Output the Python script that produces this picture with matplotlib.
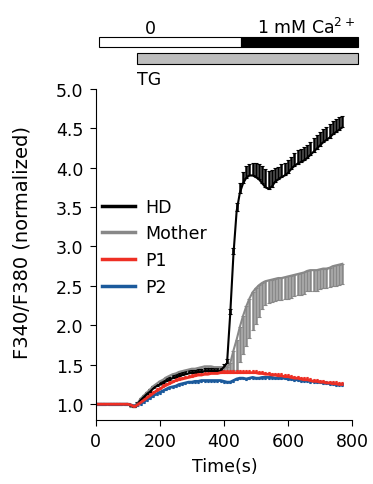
import numpy as np
import matplotlib.pyplot as plt
from matplotlib.patches import Rectangle
from matplotlib.lines import Line2D

plt.rcParams['font.family'] = ['DejaVu Sans']
plt.rcParams['mathtext.default'] = 'regular'

# time axis (s)
time = np.arange(0, 780, 10)

hd = [1.00, 1.00, 1.00, 1.00, 1.00, 1.00, 1.00, 1.00, 1.00, 1.00,
      1.00, 0.98, 0.97, 1.00, 1.05, 1.09, 1.13, 1.16, 1.20, 1.23,
      1.25, 1.27, 1.29, 1.31, 1.33, 1.34, 1.36, 1.37, 1.38, 1.39,
      1.40, 1.40, 1.41, 1.41, 1.42, 1.42, 1.42, 1.42, 1.42, 1.43,
      1.47, 1.52, 2.15, 2.90, 3.45, 3.68, 3.80, 3.87, 3.90, 3.90,
      3.88, 3.85, 3.80, 3.75, 3.73, 3.76, 3.82, 3.85, 3.88, 3.90,
      3.93, 3.98, 4.02, 4.05, 4.07, 4.09, 4.12, 4.16, 4.20, 4.24,
      4.28, 4.32, 4.35, 4.38, 4.42, 4.45, 4.48, 4.51]
hd_err = [0.01] * 13 + [0.03] * 7 + [0.04] * 20 + \
         [0.04, 0.05, 0.06, 0.08, 0.10, 0.12, 0.14, 0.15, 0.15, 0.16,
          0.18, 0.20, 0.22, 0.23, 0.23, 0.21, 0.18, 0.16, 0.16, 0.16,
          0.16, 0.16, 0.16, 0.17, 0.17, 0.17, 0.17, 0.17, 0.17, 0.17,
          0.17, 0.17, 0.17, 0.17, 0.17, 0.16, 0.16, 0.15]

mother = [1.00, 1.00, 1.00, 1.00, 1.00, 1.00, 1.00, 1.00, 1.00, 1.00,
          1.00, 0.98, 0.97, 1.01, 1.07, 1.11, 1.15, 1.19, 1.23, 1.26,
          1.29, 1.31, 1.34, 1.36, 1.38, 1.39, 1.41, 1.42, 1.43, 1.44,
          1.45, 1.45, 1.46, 1.47, 1.48, 1.48, 1.48, 1.47, 1.47, 1.47,
          1.47, 1.47, 1.52, 1.68, 1.82, 1.98, 2.12, 2.24, 2.34, 2.42,
          2.47, 2.51, 2.54, 2.56, 2.57, 2.58, 2.59, 2.60, 2.60, 2.61,
          2.62, 2.63, 2.64, 2.65, 2.66, 2.67, 2.69, 2.70, 2.70, 2.70,
          2.71, 2.72, 2.72, 2.73, 2.75, 2.76, 2.77, 2.78]
mother_err = [0.01] * 13 + [0.03] * 7 + [0.05] * 22 + \
             [0.10, 0.25, 0.38, 0.45, 0.48, 0.50, 0.50, 0.48,
              0.45, 0.40, 0.33, 0.30, 0.29, 0.28, 0.28, 0.28, 0.28, 0.28,
              0.28, 0.28, 0.27, 0.27, 0.27, 0.27, 0.26, 0.26, 0.26, 0.26,
              0.25, 0.25, 0.25, 0.25, 0.25, 0.26, 0.26, 0.26]

p1 = [1.00, 1.00, 1.00, 1.00, 1.00, 1.00, 1.00, 1.00, 1.00, 1.00,
      1.00, 0.99, 0.97, 0.99, 1.02, 1.05, 1.08, 1.11, 1.14, 1.17,
      1.19, 1.22, 1.24, 1.26, 1.28, 1.30, 1.31, 1.32, 1.33, 1.34,
      1.35, 1.36, 1.37, 1.37, 1.38, 1.38, 1.39, 1.39, 1.39, 1.40,
      1.40, 1.40, 1.40, 1.40, 1.40, 1.40, 1.40, 1.40, 1.40, 1.40,
      1.40, 1.39, 1.39, 1.38, 1.38, 1.37, 1.37, 1.36, 1.36, 1.35,
      1.35, 1.34, 1.33, 1.33, 1.32, 1.31, 1.31, 1.30, 1.29, 1.29,
      1.28, 1.28, 1.27, 1.27, 1.26, 1.26, 1.25, 1.25]
p1_err = [0.005] * 13 + [0.03] * 65

p2 = [1.00, 1.00, 1.00, 1.00, 1.00, 1.00, 1.00, 1.00, 1.00, 1.00,
      1.00, 0.99, 0.98, 0.99, 1.01, 1.03, 1.06, 1.08, 1.11, 1.13,
      1.15, 1.17, 1.19, 1.21, 1.22, 1.23, 1.25, 1.26, 1.27, 1.28,
      1.28, 1.29, 1.29, 1.30, 1.30, 1.30, 1.30, 1.30, 1.30, 1.30,
      1.29, 1.28, 1.28, 1.30, 1.32, 1.33, 1.33, 1.32, 1.33, 1.34,
      1.33, 1.33, 1.34, 1.34, 1.34, 1.34, 1.33, 1.33, 1.33, 1.33,
      1.32, 1.32, 1.31, 1.31, 1.30, 1.30, 1.30, 1.29, 1.29, 1.28,
      1.28, 1.27, 1.27, 1.26, 1.26, 1.25, 1.25, 1.25]
p2_err = [0.005] * 13 + [0.015] * 65

labels = ["HD", "Mother", "P1", "P2"]
colors = ["black", "#888888", "#ee2f24", "#1b5a9c"]

fs = 12.5
fig = plt.figure(figsize=(3.73, 4.85), dpi=100)
ax = fig.add_axes([0.2566, 0.132, 0.687, 0.683])

zero = np.zeros(len(time))
# mother: errors downward, HD: errors upward
ax.errorbar(time, mother, yerr=[mother_err, zero], color=colors[1], lw=1.5,
            elinewidth=1.8, capsize=1.5, capthick=0.8)
ax.errorbar(time, hd, yerr=[zero, hd_err], color=colors[0], lw=1.5,
            elinewidth=1.8, capsize=1.5, capthick=0.8)
ax.errorbar(time, p2, yerr=[p2_err, zero], color=colors[3], lw=2.0,
            elinewidth=1.8, capsize=1.0, capthick=0.8)
ax.errorbar(time, p1, yerr=[zero, p1_err], color=colors[2], lw=2.0,
            elinewidth=1.8, capsize=1.0, capthick=0.8)

ax.set_xlim(0, 800)
ax.set_ylim(0.8, 5.0)
ax.set_xticks([0, 200, 400, 600, 800])
ax.set_yticks(np.arange(1.0, 5.01, 0.5))
ax.yaxis.set_major_formatter(plt.FormatStrFormatter('%.1f'))
ax.spines['top'].set_visible(False)
ax.spines['right'].set_visible(False)
ax.tick_params(direction='out', length=4, labelsize=fs, pad=5)
ax.set_xlabel("Time(s)", fontsize=fs, va='top')
ax.xaxis.set_label_coords(0.504, -0.112)
ax.set_ylabel("F340/F380 (normalized)", fontsize=14)
ax.yaxis.set_label_coords(-0.25, 0.54)

handles = [Line2D([], [], color=c, lw=2.5) for c in colors]
ax.legend(handles, labels, loc='center left', bbox_to_anchor=(0.025, 0.523),
          frameon=False, fontsize=fs, handlelength=1.9, handletextpad=0.57,
          labelspacing=0.5, borderpad=0, borderaxespad=0)

# solution bars on top
fig.add_artist(Rectangle((0.2662, 0.9004), 0.3791, 0.0206, facecolor='white',
                         edgecolor='black', lw=0.8, transform=fig.transFigure))
fig.add_artist(Rectangle((0.6453, 0.9004), 0.3137, 0.0206, facecolor='black',
                         edgecolor='black', lw=0.8, transform=fig.transFigure))
fig.add_artist(Rectangle((0.3665, 0.866), 0.5925, 0.0227, facecolor='#bdbdbd',
                         edgecolor='black', lw=0.8, transform=fig.transFigure))
fig.text(0.402, 0.93, "0", ha='center', va='baseline', fontsize=fs)
fig.text(0.688, 0.93, "1 mM Ca$^{2+}$", ha='left', va='baseline', fontsize=fs)
fig.text(0.367, 0.835, "TG", ha='left', va='center', fontsize=fs)

fig.savefig("out.png", dpi=100)
